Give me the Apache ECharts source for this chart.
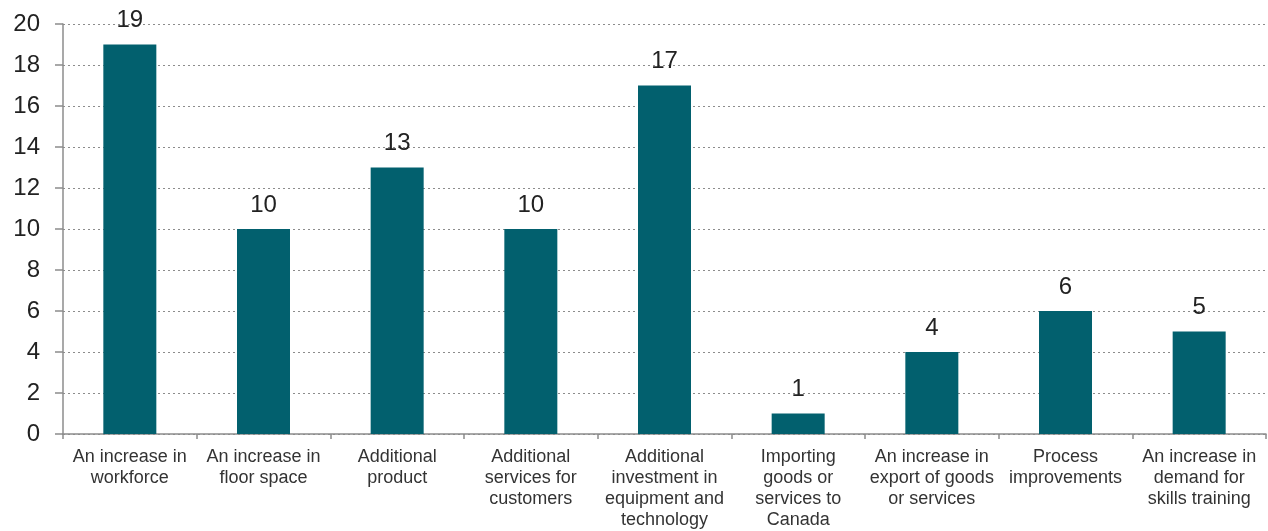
<!DOCTYPE html>
<html>
<head>
<meta charset="utf-8">
<script src="https://cdn.jsdelivr.net/npm/echarts@6/dist/echarts.min.js"></script>
<style>
  html, body { margin: 0; padding: 0; background: #fff; }
  #chart { width: 1268px; height: 531px; }
</style>
</head>
<body>
<div id="chart"></div>
<script>
// Outcomes reported, count of respondents per category
const categories = [
  'An increase in\nworkforce',
  'An increase in\nfloor space',
  'Additional\nproduct',
  'Additional\nservices for\ncustomers',
  'Additional\ninvestment in\nequipment and\ntechnology',
  'Importing\ngoods or\nservices to\nCanada',
  'An increase in\nexport of goods\nor services',
  'Process\nimprovements',
  'An increase in\ndemand for\nskills training'
];
const counts = [19, 10, 13, 10, 17, 1, 4, 6, 5];
const yTicks = { min: 0, max: 20, interval: 2 };

const chart = echarts.init(document.getElementById('chart'));
chart.setOption({
  animation: false,
  textStyle: { fontFamily: 'Liberation Sans, Arial, sans-serif' },
  grid: { left: 63, right: 2, top: 24, bottom: 95, containLabel: false },
  xAxis: {
    type: 'category',
    data: categories,
    boundaryGap: true,
    axisLine: { lineStyle: { color: '#8c8c8c', width: 1.5 } },
    axisTick: { show: true, length: 5, lineStyle: { color: '#8c8c8c', width: 1.5 } },
    axisLabel: {
      interval: 0,
      color: '#333',
      fontSize: 18,
      lineHeight: 21,
      margin: 13
    }
  },
  yAxis: {
    type: 'value',
    min: yTicks.min,
    max: yTicks.max,
    interval: yTicks.interval,
    axisLine: { show: true, lineStyle: { color: '#8c8c8c', width: 1.5 } },
    axisTick: { show: true, length: 8, lineStyle: { color: '#8c8c8c', width: 1.5 } },
    axisLabel: { color: '#222', fontSize: 24, margin: 23 },
    splitLine: { show: true, lineStyle: { color: '#8c8c8c', type: [2, 3], width: 1 } }
  },
  series: [{
    type: 'bar',
    data: counts,
    barWidth: 53,
    itemStyle: { color: '#02606e' },
    label: {
      show: true,
      position: 'top',
      distance: 12,
      color: '#222',
      fontSize: 24
    }
  }]
});
</script>
</body>
</html>
